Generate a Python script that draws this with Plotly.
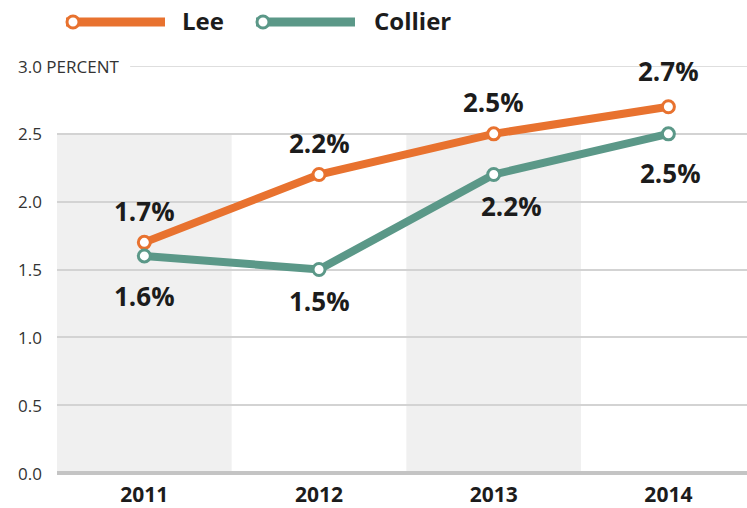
import plotly.graph_objects as go

years = ["2011", "2012", "2013", "2014"]
lee = [1.7, 2.2, 2.5, 2.7]
collier = [1.6, 1.5, 2.2, 2.5]
y_ticks = [0.0, 0.5, 1.0, 1.5, 2.0, 2.5, 3.0]
y_tick_labels = ["0.0", "0.5", "1.0", "1.5", "2.0", "2.5", "3.0 PERCENT"]
shaded_years = ["2011", "2013"]
band_top = 2.5

ORANGE = "#e8722f"
TEAL = "#5b9888"
TXT = "#1c1c1c"
FONT = "Open Sans"

# label offsets (style)
lee_shift = [(0, 31), (0, 32), (0, 32), (0, 36)]
col_shift = [(0, -40), (0, -31), (18, -31), (2, -39)]

fig = go.Figure()

for name, vals, col in [("Lee", lee, ORANGE), ("Collier", collier, TEAL)]:
    fig.add_trace(go.Scatter(
        x=years, y=vals, name=name, mode="lines+markers",
        line=dict(color=col, width=8),
        marker=dict(symbol="circle", size=12, color="white",
                    line=dict(color=col, width=3)),
        cliponaxis=False, showlegend=False, hoverinfo="skip"))

# shaded bands
for yr in shaded_years:
    i = years.index(yr)
    fig.add_shape(type="rect", xref="x", yref="y", x0=i - 0.5, x1=i + 0.5,
                  y0=0, y1=band_top, fillcolor="#f0f0f0", line_width=0,
                  layer="below")

# top gridline (after the PERCENT label)
fig.add_shape(type="line", xref="paper", yref="y", x0=0.106, x1=1,
              y0=y_ticks[-1], y1=y_ticks[-1], line=dict(color="#d3d3d3", width=1.5),
              layer="below")

# y tick labels
for v, t in zip(y_ticks, y_tick_labels):
    fig.add_annotation(x=0, xref="paper", y=v, yref="y", text=t, showarrow=False,
                       xanchor="left", xshift=-41, yanchor="middle",
                       font=dict(family=FONT, size=17, color="#333333"))

# data labels
for vals, shifts in [(lee, lee_shift), (collier, col_shift)]:
    for i, (v, (dx, dy)) in enumerate(zip(vals, shifts)):
        fig.add_annotation(x=i, xref="x", y=v, yref="y",
                           text="<b>%.1f%%</b>" % v, showarrow=False,
                           xshift=dx, yshift=dy,
                           font=dict(family=FONT, size=26, color=TXT))

# custom legend
W, L0, T, H = 690.0, 57.0, 66.0, 407.0
def px(x):
    return (x - L0) / W
def py(y):
    return (T + H - y) / H

for name, col, x0, x1, tx in [("Lee", ORANGE, 66, 165, 180), ("Collier", TEAL, 256, 355, 372)]:
    fig.add_shape(type="line", xref="paper", yref="paper", x0=px(x0), x1=px(x1),
                  y0=py(22), y1=py(22), line=dict(color=col, width=9))
    fig.add_shape(type="circle", xref="paper", yref="paper",
                  xsizemode="pixel", ysizemode="pixel",
                  xanchor=px(x0 + 7), yanchor=py(22),
                  x0=-6, x1=6, y0=-6, y1=6,
                  fillcolor="white", line=dict(color=col, width=3))
    fig.add_annotation(x=px(tx), xref="paper", y=py(21), yref="paper",
                       text=f"<b>{name}</b>", showarrow=False,
                       xanchor="left", yanchor="middle",
                       font=dict(family=FONT, size=24, color=TXT))

fig.update_layout(
    width=747, height=508,
    margin=dict(l=57, r=0, t=66, b=35),
    paper_bgcolor="white", plot_bgcolor="white",
    showlegend=False,
    xaxis=dict(type="category", categoryorder="array", categoryarray=years,
               range=[-0.5, 3.45], showgrid=False, zeroline=False, showline=False,
               ticks="outside", ticklen=3, tickcolor="rgba(0,0,0,0)",
               tickfont=dict(family=FONT, size=21, color=TXT),
               tickprefix="<b>", ticksuffix="</b>", fixedrange=True),
    yaxis=dict(range=[0, 3.0], tickvals=y_ticks[:-1], showticklabels=False,
               showgrid=True, gridcolor="#d3d3d3", gridwidth=1.5,
               zeroline=True, zerolinecolor="#c4c4c4", zerolinewidth=4,
               showline=False, fixedrange=True),
)

fig.write_html("out.html", config={"displayModeBar": False},
               post_script="document.body.style.margin='0';document.body.style.overflow='hidden';")
